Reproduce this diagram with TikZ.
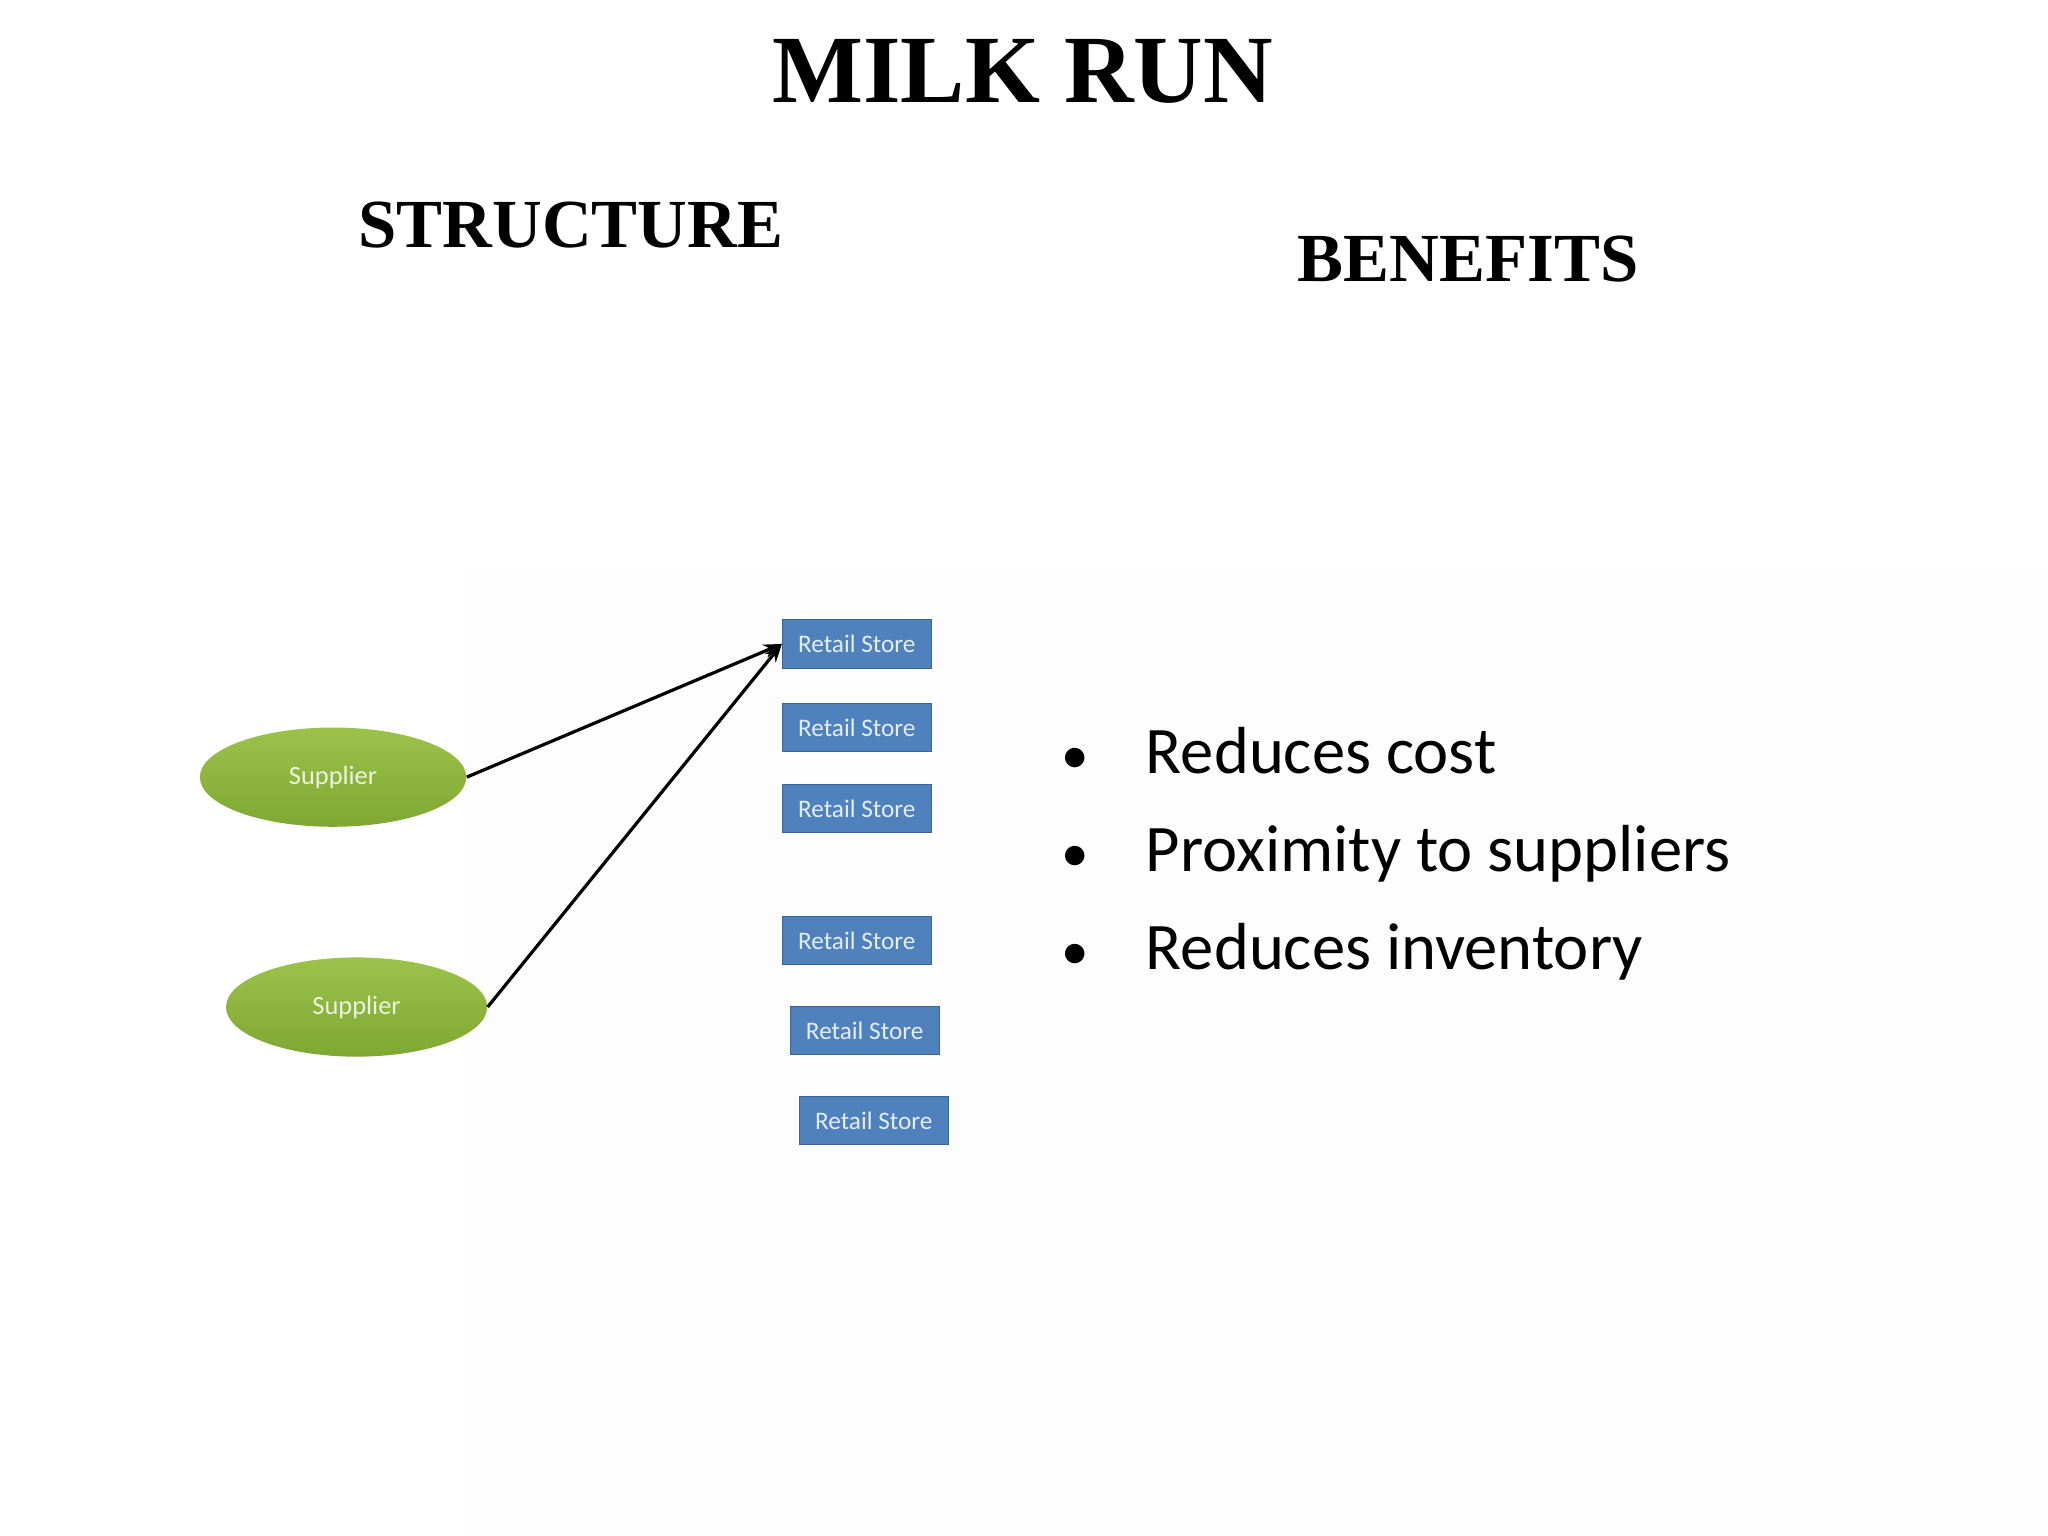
\documentclass[tikz,border=0pt]{standalone}
\usepackage{fontspec}
\setmainfont{Liberation Serif}
\newfontfamily\bodyfont{Carlito}
\usetikzlibrary{shapes.geometric,arrows.meta}
\definecolor{supTop}{HTML}{9CC24A}
\definecolor{supBot}{HTML}{7EA832}
\definecolor{storeFill}{HTML}{4F81BD}
\definecolor{storeLine}{HTML}{3A6496}
\newcommand{\bulmark}{\makebox[1.3cm][l]{\fontsize{24}{24}\selectfont•}}
\begin{document}
\begin{tikzpicture}[x=0.02cm,y=-0.02cm,
  supplier/.style={ellipse,draw=none,top color=supTop,bottom color=supBot,minimum width=4.08cm,minimum height=1.52cm,text=white!85!supBot,font=\bodyfont\fontsize{11.5}{11.5}\selectfont},
  store/.style={rectangle,draw=storeLine,fill=storeFill,minimum width=2.28cm,minimum height=0.74cm,inner sep=0pt,text=white!85!storeFill,font=\bodyfont\fontsize{11}{11}\selectfont},
  conn/.style={-{Stealth[length=8pt,width=6pt]},line width=1.4pt},
  head/.style={font=\bfseries\fontsize{30}{30}\selectfont},
  bul/.style={anchor=base west,inner sep=0pt,font=\bodyfont\fontsize{29}{29}\selectfont}]
\useasboundingbox[fill=white] (0,0) rectangle (1568,1176);
\fill[black!0.6] (355,440) rectangle (1568,1176);
\node[font=\bfseries\fontsize{42}{42}\selectfont] (title) at (783,55) {MILK RUN};
\node[head] (struct) at (437,172) {STRUCTURE};
\node[head] (ben) at (1124,198) {BENEFITS};
\node[supplier] (s1) at (255,595) {Supplier};
\node[supplier,minimum width=4cm] (s2) at (273,771) {Supplier};
\node[store] (r1) at (656,493) {Retail Store};
\node[store] (r2) at (656,557) {Retail Store};
\node[store] (r3) at (656,619) {Retail Store};
\node[store] (r4) at (656,720) {Retail Store};
\node[store] (r5) at (662,789) {Retail Store};
\node[store] (r6) at (669,858) {Retail Store};
\draw[conn] (s1.east) -- (r1.west);
\draw[conn] (s2.east) -- (r1.west);
\node[bul] (b1) at (812,592) {\bulmark Reduces cost};
\node[bul] (b2) at (812,667) {\bulmark Proximity to suppliers};
\node[bul] (b3) at (812,742) {\bulmark Reduces inventory};
\end{tikzpicture}
\end{document}
